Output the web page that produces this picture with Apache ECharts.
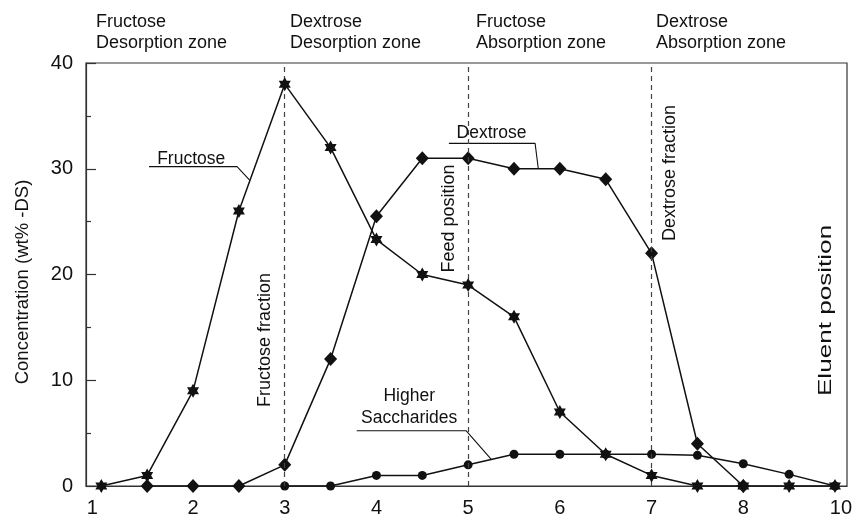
<!DOCTYPE html>
<html>
<head>
<meta charset="utf-8">
<script src="https://cdn.jsdelivr.net/npm/echarts@6/dist/echarts.min.js"></script>
<style>
  html, body { margin: 0; padding: 0; background: #fff; }
  #chart { width: 854px; height: 518px; }
</style>
</head>
<body>
<div id="chart"></div>
<script>
// Column positions along the simulated moving bed and their printed labels
const xTickPos = [1, 2, 3, 4, 5, 6, 7, 8, 9];
const xTickText = ['1', '2', '3', '4', '5', '6', '7', '8', '10'];

// Concentration profiles (wt% on dry substance)
const fructosePos = [1, 1.5, 2, 2.5, 3, 3.5, 4, 4.5, 5, 5.5, 6, 6.5, 7, 7.5, 8, 8.5, 9];
const fructose    = [0, 1, 9, 26, 38, 32, 23.3, 20, 19, 16, 7, 3, 1, 0, 0, 0, 0];
const dextrosePos = [1.5, 2, 2.5, 3, 3.5, 4, 4.5, 5, 5.5, 6, 6.5, 7, 7.5, 8];
const dextrose    = [0, 0, 0, 2, 12, 25.5, 31, 31, 30, 30, 29, 22, 4, 0];
const higherPos   = [3, 3.5, 4, 4.5, 5, 5.5, 6, 6.5, 7, 7.5, 8, 8.5, 9];
const higher      = [0, 0, 1, 1, 2, 3, 3, 3, 3, 2.9, 2.1, 1.1, 0];

// Draw-off / feed positions marked with dashed lines
const fractionLines = [3, 5, 7];

// Zone headings across the top
const zoneLabels = [
  'Fructose\nDesorption zone',
  'Dextrose\nDesorption zone',
  'Fructose\nAbsorption zone',
  'Dextrose\nAbsorption zone'
];

// Curve callouts: text, text anchor and leader polyline (data units)
const curveNotes = ['Fructose', 'Dextrose', 'Higher\nSaccharides'];
const curveNoteAnchor = [[1.98, 30.9], [5.255, 33.4], [4.357, 7.47]];
const fructoseLeader = [[1.52, 30.2], [2.48, 30.2], [2.62, 28.9]];
const dextroseLeader = [[4.79, 32.4], [5.73, 32.4], [5.765, 30]];
const higherLeader   = [[3.785, 5.23], [4.977, 5.23], [5.257, 2.48]];

// Vertical position notes (data units of the text centre)
const positionNotes = ['Fructose fraction', 'Feed position', 'Dextrose fraction', 'Eluent position'];
const positionAnchor = [[2.79, 13.8], [4.79, 25.3], [7.2, 29.6], [8.9, 16.6]];

const FONT = '"Liberation Sans", Arial, Helvetica, sans-serif';
const INK = '#111';

// Filled six-pointed star marker
const STAR = 'path://M0,-10L2.887,-5L8.66,-5L5.774,0L8.66,5L2.887,5L0,10L-2.887,5L-8.66,5L-5.774,0L-8.66,-5L-2.887,-5Z';

const zip = (xs, ys) => xs.map((x, i) => [x, ys[i]]);

const chart = echarts.init(document.getElementById('chart'), null, { renderer: 'canvas' });

const leaderSeries = (pts) => ({
  type: 'line',
  data: pts,
  symbol: 'none',
  silent: true,
  lineStyle: { color: INK, width: 1.1 },
  z: 1
});

chart.setOption({
  animation: false,
  backgroundColor: '#fff',
  grid: {
    left: 86, right: 7, top: 63, bottom: 32,
    show: true, borderColor: '#333', borderWidth: 1.2,
    containLabel: false, outerBoundsMode: 'none'
  },
  xAxis: {
    type: 'value',
    min: 0.833, max: 9.131,
    axisLine: { lineStyle: { color: '#333', width: 1.2 } },
    axisTick: { show: false },
    splitLine: { show: false },
    axisLabel: {
      customValues: xTickPos,
      margin: 12,
      fontFamily: FONT, fontSize: 20, color: INK,
      formatter: (v) => {
        const i = xTickPos.indexOf(Math.round(v * 1000) / 1000);
        const t = i >= 0 ? xTickText[i] : '';
        if (i === 0) return '{l|' + t + '}';
        if (i === xTickPos.length - 1) return '{r|' + t + '}';
        return t;
      },
      rich: {
        l: { fontFamily: FONT, fontSize: 20, color: INK, padding: [0, 18, 0, 0] },
        r: { fontFamily: FONT, fontSize: 20, color: INK, padding: [0, 0, 0, 12] }
      }
    }
  },
  yAxis: {
    type: 'value',
    min: 0, max: 40, interval: 10,
    axisLine: { show: true, lineStyle: { color: '#333', width: 1.2 } },
    axisTick: { show: true, inside: true, length: 10, lineStyle: { color: '#333', width: 1.2 } },
    minorTick: { show: true, splitNumber: 2, length: 5, lineStyle: { color: '#333', width: 1.2 } },
    splitLine: { show: false },
    axisLabel: { margin: 13, fontFamily: FONT, fontSize: 20, color: INK }
  },
  series: [
    {
      name: 'Higher Saccharides',
      type: 'line',
      data: zip(higherPos, higher),
      symbol: 'circle', symbolSize: 9,
      itemStyle: { color: INK },
      lineStyle: { color: INK, width: 1.5 },
      z: 3,
      markLine: {
        silent: true,
        symbol: ['none', 'none'],
        label: { show: false },
        lineStyle: { color: '#444', type: [5, 4], width: 1.2 },
        data: fractionLines.map(v => ({ xAxis: v }))
      }
    },
    {
      name: 'Dextrose',
      type: 'line',
      data: zip(dextrosePos, dextrose),
      symbol: 'diamond', symbolSize: [13, 14],
      itemStyle: { color: INK },
      lineStyle: { color: INK, width: 1.5 },
      z: 4
    },
    {
      name: 'Fructose',
      type: 'line',
      data: zip(fructosePos, fructose),
      symbol: STAR, symbolSize: [12, 14],
      itemStyle: { color: INK },
      lineStyle: { color: INK, width: 1.5 },
      z: 5
    },
    leaderSeries(fructoseLeader),
    leaderSeries(dextroseLeader),
    leaderSeries(higherLeader)
  ]
});

// Text annotations placed through the grid's coordinate system
function placeNotes() {
  const toPx = (p) => chart.convertToPixel({ gridIndex: 0 }, p);
  const g = [];

  zoneLabels.forEach((t, i) => {
    g.push({
      type: 'text', left: [96, 290, 476, 656][i], top: 11, silent: true,
      style: { text: t, font: '18px ' + FONT, fill: INK, lineHeight: 21.6 }
    });
  });

  curveNotes.forEach((t, i) => {
    const p = toPx(curveNoteAnchor[i]);
    g.push({
      type: 'text', x: p[0], y: p[1], silent: true,
      style: {
        text: t, font: '17.5px ' + FONT, fill: INK, lineHeight: 21.5,
        textAlign: 'center', textVerticalAlign: 'middle'
      }
    });
  });

  // the eluent note is set with wider tracking along its length
  const stretch = [1, 1, 1, 1.45];
  positionNotes.forEach((t, i) => {
    const p = toPx(positionAnchor[i]);
    g.push({
      type: 'text', x: p[0], y: p[1], rotation: Math.PI / 2, scaleX: stretch[i], silent: true,
      style: {
        text: t, font: '18px ' + FONT, fill: INK,
        textAlign: 'center', textVerticalAlign: 'middle'
      }
    });
  });

  g.push({
    type: 'text', x: 22.5, y: 282, rotation: Math.PI / 2, silent: true,
    style: {
      text: 'Concentration (wt% -DS)', font: '18.5px ' + FONT, fill: INK,
      textAlign: 'center', textVerticalAlign: 'middle'
    }
  });

  chart.setOption({ graphic: g });
}
placeNotes();
</script>
</body>
</html>
